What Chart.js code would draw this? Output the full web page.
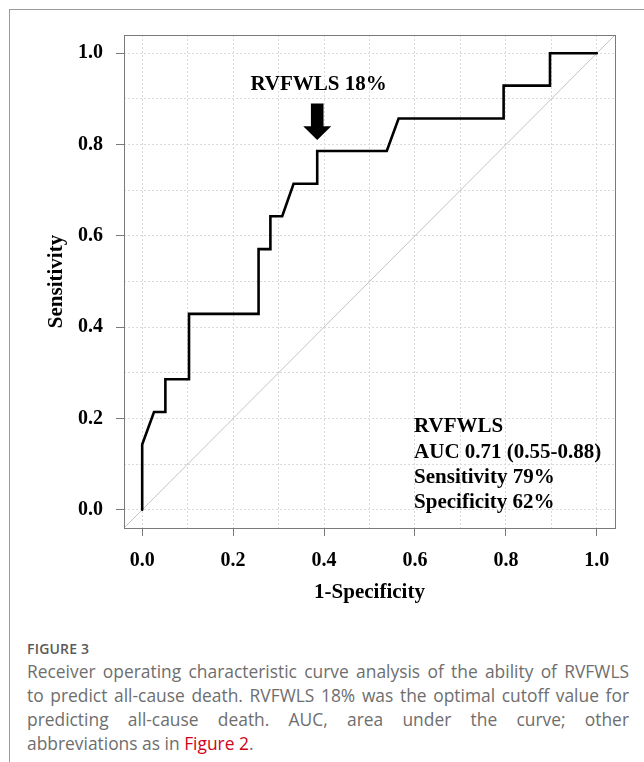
<!DOCTYPE html>
<html>
<head>
<meta charset="utf-8">
<script src="https://cdn.jsdelivr.net/npm/chart.js@4.4.1/dist/chart.umd.min.js"></script>
<style>
  html, body { margin: 0; padding: 0; background: #fff; }
  body { width: 644px; height: 762px; position: relative; overflow: hidden; }
  #frame { position: absolute; left: 9px; top: 9px; width: 700px; height: 800px;
           border-left: 1px solid #9a9a9a; border-top: 1px solid #9a9a9a; }
  #wrap { position: absolute; left: 10px; top: 10px; width: 634px; height: 610px; }
  #cap { position: absolute; left: 27px; top: 639px; width: 602px; font-family: "Open Sans", sans-serif; }
  #cap .fig { font-size: 14px; font-weight: 600; color: #5a5a5a; letter-spacing: 0.2px; line-height: 20px; }
  #cap .ln { font-size: 17.4px; font-weight: 400; color: #6e6e6e; line-height: 24px;
             text-align: justify; text-align-last: justify; white-space: nowrap; }
  #cap .ln.last { text-align-last: left; }
  #cap .red { color: #d0021b; font-weight: 400; }
</style>
</head>
<body>
<div id="frame"></div>
<div id="wrap"><canvas id="c" width="634" height="610"></canvas></div>
<div id="cap">
  <div class="fig">FIGURE 3</div>
  <div class="ln">Receiver operating characteristic curve analysis of the ability of RVFWLS</div>
  <div class="ln">to predict all-cause death. RVFWLS 18% was the optimal cutoff value for</div>
  <div class="ln">predicting all-cause death. AUC, area under the curve; other</div>
  <div class="ln last">abbreviations as in <span class="red">Figure 2</span>.</div>
</div>
<script>
// ROC curve
const fprValues  = [0, 0, 0.026, 0.051, 0.051, 0.103, 0.103, 0.256, 0.256, 0.282, 0.282, 0.308, 0.333, 0.385, 0.385, 0.538, 0.564, 0.795, 0.795, 0.897, 0.897, 1.0];
const sensValues = [0, 0.143, 0.214, 0.214, 0.286, 0.286, 0.429, 0.429, 0.571, 0.571, 0.643, 0.643, 0.714, 0.714, 0.786, 0.786, 0.857, 0.857, 0.929, 0.929, 1.0, 1.0];
// reference (chance) line
const refX = [-0.04, 1.04];
const refY = [-0.04, 1.04];
// axis ticks
const gridValues = [0, 0.1, 0.2, 0.3, 0.4, 0.5, 0.6, 0.7, 0.8, 0.9, 1.0];
const tickLabels = ['0.0', '0.2', '0.4', '0.6', '0.8', '1.0'];
// annotation texts
const cutoffLabel = 'RVFWLS 18%';
const cutoffPoint = [0.385, 0.786];
const statLines = ['RVFWLS', 'AUC 0.71 (0.55-0.88)', 'Sensitivity 79%', 'Specificity 62%'];

const SERIF = '"Liberation Serif", "Times New Roman", serif';

function labelFor(v) {
  const l = tickLabels.find(t => Math.abs(parseFloat(t) - v) < 1e-6);
  return l === undefined ? '' : l;
}
function tickCol(ctx) {
  return labelFor(ctx.tick.value) === '' ? 'rgba(0,0,0,0)' : '#7a7a7a';
}

const boxPlugin = {
  id: 'box',
  afterDatasetsDraw(chart) {
    const {ctx, chartArea: a, scales: {x, y}} = chart;
    ctx.save();
    // plot box
    ctx.strokeStyle = '#7a7a7a';
    ctx.lineWidth = 1;
    ctx.strokeRect(Math.round(a.left) + 0.5, Math.round(a.top) + 0.5,
                   Math.round(a.right - a.left), Math.round(a.bottom - a.top));
    // cutoff label
    ctx.fillStyle = '#000';
    ctx.font = 'bold 21px ' + SERIF;
    ctx.textAlign = 'center';
    ctx.textBaseline = 'middle';
    const cx = x.getPixelForValue(cutoffPoint[0]);
    ctx.fillText(cutoffLabel, x.getPixelForValue(0.388), y.getPixelForValue(0.932));
    // arrow
    const yTop = y.getPixelForValue(0.890), yBase = y.getPixelForValue(0.840), yTip = y.getPixelForValue(0.810);
    ctx.beginPath();
    ctx.moveTo(cx - 6.3, yTop);
    ctx.lineTo(cx + 6.3, yTop);
    ctx.lineTo(cx + 6.3, yBase);
    ctx.lineTo(cx + 14, yBase);
    ctx.lineTo(cx, yTip);
    ctx.lineTo(cx - 14, yBase);
    ctx.lineTo(cx - 6.3, yBase);
    ctx.closePath();
    ctx.fill();
    // stats block
    ctx.textAlign = 'left';
    const ys = [0.182, 0.126, 0.071, 0.016];
    statLines.forEach((t, i) => ctx.fillText(t, x.getPixelForValue(0.598), y.getPixelForValue(ys[i])));
    ctx.restore();
  }
};

const gridCommon = {
  color: '#dadada',
  lineWidth: 1,
  drawTicks: true,
  tickLength: 8,
  tickColor: tickCol,
  tickWidth: 1,
  borderDash: [2, 2]
};

new Chart(document.getElementById('c'), {
  type: 'scatter',
  data: {
    datasets: [
      {
        data: fprValues.map((v, i) => ({x: v, y: sensValues[i]})),
        showLine: true,
        borderColor: '#000',
        borderWidth: 2.6,
        borderCapStyle: 'round',
        borderJoinStyle: 'miter',
        pointRadius: 0,
        tension: 0,
        fill: false
      },
      {
        data: refX.map((v, i) => ({x: v, y: refY[i]})),
        showLine: true,
        borderColor: '#c4c4c4',
        borderWidth: 1,
        pointRadius: 0,
        fill: false
      }
    ]
  },
  options: {
    responsive: false,
    animation: false,
    devicePixelRatio: 1,
    layout: { padding: { top: 25, right: 29, left: 0, bottom: 0 } },
    plugins: { legend: { display: false }, tooltip: { enabled: false } },
    scales: {
      x: {
        type: 'linear', min: -0.04, max: 1.04,
        afterBuildTicks: s => { s.ticks = gridValues.map(v => ({value: v})); },
        afterFit: s => { s.height = 92; },
        grid: gridCommon,
        border: { display: false, dash: [2, 2] },
        ticks: { callback: v => labelFor(v), padding: 13, maxRotation: 0, autoSkip: false,
                 color: '#000', font: { family: SERIF, weight: 'bold', size: 20 } },
        title: { display: true, text: '1-Specificity', color: '#000',
                 font: { family: SERIF, weight: 'bold', size: 21, lineHeight: 1.2 },
                 padding: { top: 0, bottom: 15 } }
      },
      y: {
        type: 'linear', min: -0.04, max: 1.04,
        afterBuildTicks: s => { s.ticks = gridValues.map(v => ({value: v})); },
        afterFit: s => { s.width = 114; },
        grid: gridCommon,
        border: { display: false, dash: [2, 2] },
        ticks: { callback: v => labelFor(v), padding: 13, autoSkip: false,
                 color: '#000', font: { family: SERIF, weight: 'bold', size: 20 } },
        title: { display: true, text: 'Sensitivity', color: '#000',
                 font: { family: SERIF, weight: 'bold', size: 21, lineHeight: 1.2 },
                 padding: { top: 34, bottom: 0 } }
      }
    }
  },
  plugins: [boxPlugin]
});
</script>
</body>
</html>
